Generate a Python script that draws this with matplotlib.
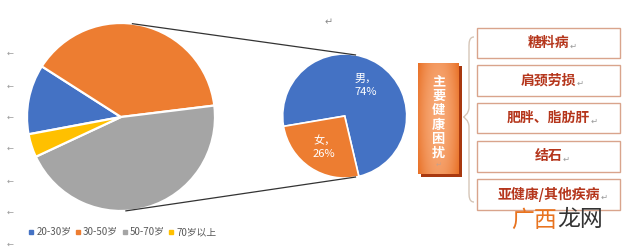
import numpy as np
import matplotlib
matplotlib.use("Agg")
import matplotlib.pyplot as plt
from matplotlib.patches import Rectangle, PathPatch
from matplotlib.path import Path
from matplotlib.lines import Line2D

plt.rcParams['font.family'] = ['Noto Sans CJK SC', 'DejaVu Sans']

# ---- data ----
age_labels = ["20-30岁", "30-50岁", "50-70岁", "70岁以上"]
age_values = [12, 39, 45, 4]
age_colors = ["#4472C4", "#ED7D31", "#A5A5A5", "#FFC000"]

sex_labels = ["男", "女"]
sex_values = [74, 26]
sex_colors = ["#4472C4", "#ED7D31"]

title_chars = list("主要健康困扰")
problems = ["糖料病", "肩颈劳损", "肥胖、脂肪肝", "结石", "亚健康/其他疾病"]

W, H = 640, 248
fig = plt.figure(figsize=(W / 100, H / 100), dpi=100)
fig.patch.set_facecolor("white")
ax = fig.add_axes([0, 0, 1, 1])


def Y(y):
    return H - y


# ---- left pie ----
lc, lr = (121, Y(117)), 94
ax.pie(age_values, colors=age_colors, startangle=190.6, counterclock=False,
       center=lc, radius=lr, frame=True,
       wedgeprops=dict(edgecolor="white", linewidth=1.6))

# ---- right pie ----
rc, rr = (344.7, Y(116)), 62
labels = [f"{n}，\n{v}%" for n, v in zip(sex_labels, sex_values)]
wedges, texts = ax.pie(sex_values, colors=sex_colors, startangle=189.6, counterclock=False,
                       center=rc, radius=rr, frame=True, explode=[0, 0.03],
                       labels=labels, labeldistance=0.6,
                       wedgeprops=dict(edgecolor="white", linewidth=1.2),
                       textprops=dict(color="white", fontsize=8, ha="center",
                                      fontweight="medium", linespacing=1.45))

# connector lines (from the circle geometry)
def on_circle(c, r, ang):
    a = np.deg2rad(ang)
    return c[0] + r * np.cos(a), c[1] + r * np.sin(a)

p1 = on_circle(lc, lr, 83); p2 = on_circle(rc, rr, 80)
p3 = on_circle(lc, lr, -87); p4 = on_circle(rc, rr, -80)
ax.plot([p1[0], p2[0]], [p1[1], p2[1]], color="#333333", lw=0.9)
ax.plot([p3[0], p4[0]], [p3[1], p4[1]], color="#333333", lw=0.9)

# paragraph marks
for yy in [53, 86, 117, 148, 181, 212, 244]:
    ax.text(10, Y(yy), "←", color="#9a9a9a", fontsize=6, ha="center", va="center",
            family="DejaVu Sans")
ax.text(329, Y(22), "↵", color="#8a8a8a", fontsize=7, ha="center", va="center",
        family="DejaVu Sans")

# legend
handles = [Line2D([], [], marker="s", ls="", ms=3.4, color=c) for c in age_colors]
ax.legend(handles, age_labels, loc="center left", bbox_to_anchor=(29 / W, 1 - 232 / H),
          bbox_transform=fig.transFigure, ncol=4, frameon=False, fontsize=7,
          handlelength=0.5, handletextpad=0.25, columnspacing=0.45, labelcolor="#595959",
          borderaxespad=0, borderpad=0)

# ---- orange title box ----
bx0, bx1, by0, by1 = 418.3, 459.3, 63.3, 174
ax.add_patch(Rectangle((bx0 + 2.5, Y(by1) - 2.5), bx1 - bx0, by1 - by0,
                       facecolor="#A8380F", edgecolor="none", zorder=2))
xs = np.linspace(-1, 1, 60)
ys = np.linspace(-1, 1, 120)
XX, YY = np.meshgrid(xs, ys)
t = np.clip(1 - 0.75 * XX ** 2 - 0.25 * YY ** 2, 0, 1)
c_edge = np.array([0.91, 0.44, 0.15])
c_mid = np.array([0.97, 0.66, 0.46])
img = c_edge[None, None, :] * (1 - t[..., None]) + c_mid[None, None, :] * t[..., None]
ax.imshow(img, extent=(bx0, bx1, Y(by1), Y(by0)), origin="lower", zorder=3,
          aspect="auto", interpolation="bilinear")
for i, ch in enumerate(title_chars):
    ax.text((bx0 + bx1) / 2, Y(81.7 + 14.3 * i), ch, color="white", fontsize=9.5,
            fontweight="bold", ha="center", va="center", zorder=4)
ax.text((bx0 + bx1) / 2, Y(165), "↵", color="#c8a08a", fontsize=5, ha="center",
        va="center", zorder=4, family="DejaVu Sans")

# ---- brace ----
bxr, bxl, tip = 474, 469, 463.5
top, mid, bot = 37, 117, 202
verts = [(bxr, Y(top)), (bxl, Y(top)), (bxl, Y(top + 6)), (bxl, Y(top + 10)),
         (bxl, Y(mid - 10)),
         (bxl, Y(mid - 3)), (tip, Y(mid)), (tip, Y(mid)),
         (tip, Y(mid)), (bxl, Y(mid + 3)), (bxl, Y(mid + 10)),
         (bxl, Y(bot - 10)),
         (bxl, Y(bot - 6)), (bxl, Y(bot)), (bxr, Y(bot))]
codes = [Path.MOVETO, Path.CURVE4, Path.CURVE4, Path.CURVE4,
         Path.LINETO,
         Path.CURVE4, Path.CURVE4, Path.CURVE4,
         Path.CURVE4, Path.CURVE4, Path.CURVE4,
         Path.LINETO,
         Path.CURVE4, Path.CURVE4, Path.CURVE4]
ax.add_patch(PathPatch(Path(verts, codes), facecolor="none", edgecolor="#d6c6b8", lw=1.0))

# ---- problem boxes ----
px0, px1 = 476.7, 620
box_y = [(27.7, 58.3), (65, 95.7), (103.3, 133.3), (141, 171.7), (179, 210)]
for (y0, y1), label in zip(box_y, problems):
    ax.add_patch(Rectangle((px0, Y(y1)), px1 - px0, y1 - y0, facecolor="white",
                           edgecolor="#D9A48C", lw=1.0, zorder=2))
    tx = ax.text((px0 + px1) / 2, Y((y0 + y1) / 2), label, color="#B5361C",
                 fontsize=10, fontweight="bold", ha="center", va="center", zorder=3)
    ax.annotate("↵", xy=(1, 0.3), xycoords=tx, xytext=(0.5, 0), textcoords="offset points",
                color="#9a9a9a", fontsize=6, ha="left", va="center", zorder=3,
                family="DejaVu Sans")

# ---- watermark ----
wm = ax.text(511.5, Y(220), "广西", color="#E8731F", fontsize=16.5, fontweight="light",
             ha="left", va="center", zorder=5)
ax.annotate("龙网", xy=(1, 0.5), xycoords=wm, color="#333333", fontsize=16.5,
            fontweight="light", ha="left", va="center", zorder=5)

ax.set_xlim(0, W)
ax.set_ylim(0, H)
ax.set_aspect("auto")
ax.axis("off")

fig.savefig("out.png", dpi=100, facecolor="white")
